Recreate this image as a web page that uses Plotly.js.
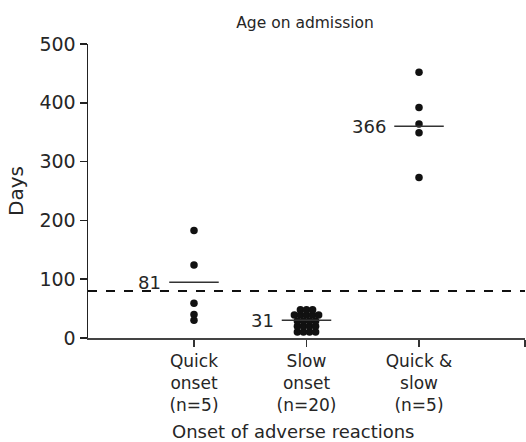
<!DOCTYPE html>
<html><head><meta charset="utf-8">
<script src="https://cdn.plot.ly/plotly-3.0.1.min.js"></script>
<style>html,body{margin:0;padding:0;background:#fff}</style>
</head><body><div id="chart" style="width:526px;height:442px"></div>
<script>
// ---- data ----
const categories = ["Quick<br>onset<br>(n=5)", "Slow<br>onset<br>(n=20)", "Quick &<br>slow<br>(n=5)"];
const quickOnset = [183, 124, 59, 40, 30];
const slowOnset = [48, 48, 48, 39, 39, 39, 39, 39, 29, 29, 29, 29, 20, 20, 20, 20, 10, 10, 10, 10];
const quickAndSlow = [452, 392, 364, 349, 273];
const meanLineDays = [95, 30, 360];
const meanLabels = ["81", "31", "366"];
const thresholdDays = 80;
const yTickVals = [0, 100, 200, 300, 400, 500];
const xTitle = "Onset of adverse reactions";

// ---- build ----
const groups = [quickOnset, slowOnset, quickAndSlow];
const DX = 0.054, HALF = 0.22;
const FONT = "DejaVu Sans";
const TXT = "#262626";
const traces = [];
groups.forEach((vals, gi) => {
  const pos = gi + 1;
  const buckets = {};
  vals.forEach(v => { (buckets[v] = buckets[v] || []).push(v); });
  const xs = [], ys = [];
  Object.keys(buckets).forEach(k => {
    const n = buckets[k].length;
    buckets[k].forEach((v, i) => { xs.push(pos + (i - (n - 1) / 2) * DX); ys.push(v); });
  });
  traces.push({type: "scatter", mode: "markers", x: xs, y: ys, cliponaxis: false,
    marker: {size: 7.5, color: "#111"}, showlegend: false, hoverinfo: "y"});
  traces.push({type: "scatter", mode: "lines", x: [pos - HALF, pos + HALF],
    y: [meanLineDays[gi], meanLineDays[gi]], line: {color: "#333", width: 1.5},
    showlegend: false, hoverinfo: "skip"});
});

const annotations = meanLabels.map((t, gi) => ({
  x: gi + 1 - HALF, y: meanLineDays[gi], xref: "x", yref: "y", text: t,
  showarrow: false, xanchor: "right", yanchor: "middle", xshift: -6,
  font: {family: FONT, size: 18, color: TXT}
}));
annotations.push({x: 0.471, xref: "paper", y: 0, yref: "paper", yshift: -93, text: xTitle,
  showarrow: false, xanchor: "center", yanchor: "middle",
  font: {family: FONT, size: 18, color: TXT}});

const layout = {
  width: 526, height: 442,
  margin: {l: 88, r: 1, t: 44, b: 104},
  paper_bgcolor: "#fff", plot_bgcolor: "#fff",
  font: {family: FONT, size: 16, color: TXT},
  title: {text: "Age on admission", x: 0.58, xanchor: "center", y: 0.948, yanchor: "middle",
    font: {family: FONT, size: 15.5, color: TXT}},
  xaxis: {range: [0.058, 3.942], tickvals: [1, 2, 3, 3.942], ticktext: categories.concat([""]),
    showgrid: false, zeroline: false, showline: true, linecolor: "#444", linewidth: 1.5,
    ticks: "outside", ticklen: 7, tickwidth: 1.5, tickcolor: "#333",
    tickfont: {family: FONT, size: 17, color: TXT}},
  yaxis: {range: [0, 500], tickvals: yTickVals, showgrid: false, zeroline: false,
    showline: true, linecolor: "#222", linewidth: 1.5,
    ticks: "outside", ticklen: 7, tickwidth: 1.5, tickcolor: "#222",
    tickfont: {family: FONT, size: 19, color: TXT},
    title: {text: "Days", font: {family: FONT, size: 20, color: TXT}, standoff: 10}},
  shapes: [{type: "line", xref: "paper", x0: 0, x1: 1, yref: "y", y0: thresholdDays, y1: thresholdDays,
    line: {color: "#111", width: 2, dash: "dash"}}],
  annotations: annotations
};
Plotly.newPlot("chart", traces, layout, {displayModeBar: false, staticPlot: true});
</script></body></html>
